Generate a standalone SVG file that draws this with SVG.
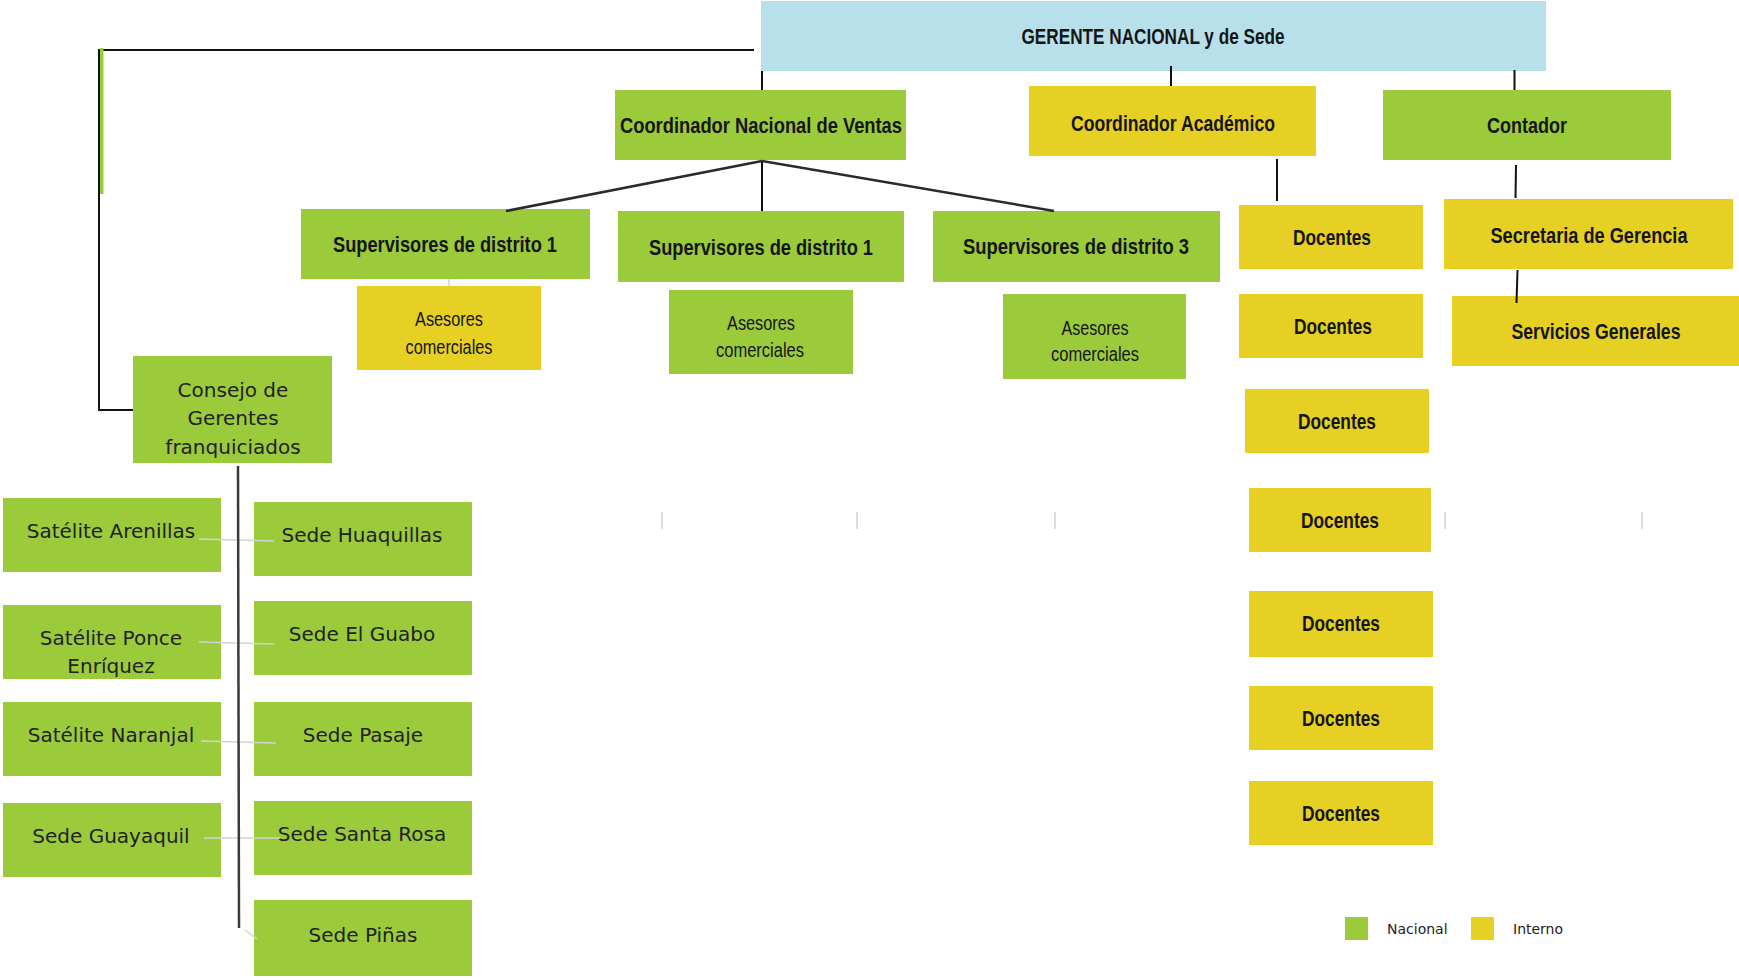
<svg xmlns="http://www.w3.org/2000/svg" width="1739" height="980" viewBox="0 0 1739 980">
<style>
.g{fill:#9BCB3B}
.y{fill:#E5D023}
.b{fill:#B8E0EA}
.h{font-family:"Liberation Sans Narrow","Liberation Sans",Arial,sans-serif;font-weight:bold;font-size:22px;fill:#151515;text-anchor:middle}
.a{font-family:"Liberation Sans Narrow","Liberation Sans",Arial,sans-serif;font-size:20px;fill:#151515;text-anchor:middle}
.r{font-family:"DejaVu Sans","Noto Sans",sans-serif;font-size:20px;fill:#222;text-anchor:middle}
.l{font-family:"DejaVu Sans","Noto Sans",sans-serif;font-size:14px;fill:#222}
.k{stroke:#111;stroke-width:2;fill:none}
.d{stroke:#2a2a2a;stroke-width:2.5;fill:none}
.f{stroke:#d2d2d2;stroke-width:1.5;fill:none}
</style>
<rect width="1739" height="980" fill="#fff"/>
<g id="gerente"><rect x="761" y="1" width="785" height="70" class="b"/><text class="h" x="1153" y="43.5" font-size="21" textLength="263" lengthAdjust="spacingAndGlyphs">GERENTE NACIONAL y de Sede</text></g>
<g id="coord-ventas"><rect x="615" y="90" width="291" height="70" class="g"/><text class="h" x="761" y="133" textLength="282" lengthAdjust="spacingAndGlyphs">Coordinador Nacional de Ventas</text></g>
<g id="coord-academico"><rect x="1029" y="86" width="287" height="70" class="y"/><text class="h" x="1173" y="131" textLength="204" lengthAdjust="spacingAndGlyphs">Coordinador Académico</text></g>
<g id="contador"><rect x="1383" y="90" width="288" height="70" class="g"/><text class="h" x="1527" y="133" textLength="80" lengthAdjust="spacingAndGlyphs">Contador</text></g>
<g id="sup1a"><rect x="301" y="209" width="289" height="70" class="g"/><text class="h" x="445" y="252" textLength="224" lengthAdjust="spacingAndGlyphs">Supervisores de distrito 1</text></g>
<g id="sup1b"><rect x="618" y="211" width="286" height="71" class="g"/><text class="h" x="761" y="255" textLength="224" lengthAdjust="spacingAndGlyphs">Supervisores de distrito 1</text></g>
<g id="sup3"><rect x="933" y="211" width="287" height="71" class="g"/><text class="h" x="1076" y="254" textLength="226" lengthAdjust="spacingAndGlyphs">Supervisores de distrito 3</text></g>
<g id="asesores1"><rect x="357" y="286" width="184" height="84" class="y"/><text class="a" x="449" y="326" textLength="68" lengthAdjust="spacingAndGlyphs">Asesores</text><text class="a" x="449" y="354" textLength="87" lengthAdjust="spacingAndGlyphs">comerciales</text></g>
<g id="asesores2"><rect x="669" y="290" width="184" height="84" class="g"/><text class="a" x="761" y="330" textLength="68" lengthAdjust="spacingAndGlyphs">Asesores</text><text class="a" x="760" y="357" textLength="88" lengthAdjust="spacingAndGlyphs">comerciales</text></g>
<g id="asesores3"><rect x="1003" y="294" width="183" height="85" class="g"/><text class="a" x="1095" y="335" textLength="67" lengthAdjust="spacingAndGlyphs">Asesores</text><text class="a" x="1095" y="361" textLength="88" lengthAdjust="spacingAndGlyphs">comerciales</text></g>
<g id="docentes1"><rect x="1239" y="205" width="184" height="64" class="y"/><text class="h" x="1332" y="245" textLength="78" lengthAdjust="spacingAndGlyphs">Docentes</text></g>
<g id="docentes2"><rect x="1239" y="294" width="184" height="64" class="y"/><text class="h" x="1333" y="334" textLength="78" lengthAdjust="spacingAndGlyphs">Docentes</text></g>
<g id="docentes3"><rect x="1245" y="389" width="184" height="64" class="y"/><text class="h" x="1337" y="429" textLength="78" lengthAdjust="spacingAndGlyphs">Docentes</text></g>
<g id="docentes4"><rect x="1249" y="488" width="182" height="64" class="y"/><text class="h" x="1340" y="528" textLength="78" lengthAdjust="spacingAndGlyphs">Docentes</text></g>
<g id="docentes5"><rect x="1249" y="591" width="184" height="66" class="y"/><text class="h" x="1341" y="631" textLength="78" lengthAdjust="spacingAndGlyphs">Docentes</text></g>
<g id="docentes6"><rect x="1249" y="686" width="184" height="64" class="y"/><text class="h" x="1341" y="726" textLength="78" lengthAdjust="spacingAndGlyphs">Docentes</text></g>
<g id="docentes7"><rect x="1249" y="781" width="184" height="64" class="y"/><text class="h" x="1341" y="821" textLength="78" lengthAdjust="spacingAndGlyphs">Docentes</text></g>
<g id="secretaria"><rect x="1444" y="199" width="289" height="70" class="y"/><text class="h" x="1589" y="243" textLength="197" lengthAdjust="spacingAndGlyphs">Secretaria de Gerencia</text></g>
<g id="servicios"><rect x="1452" y="296" width="287" height="70" class="y"/><text class="h" x="1596" y="339" textLength="169" lengthAdjust="spacingAndGlyphs">Servicios Generales</text></g>
<g id="consejo"><rect x="133" y="356" width="199" height="107" class="g"/><text class="r" x="233" y="397">Consejo de</text><text class="r" x="233" y="425">Gerentes</text><text class="r" x="233" y="454">franquiciados</text></g>
<g id="sat-arenillas"><rect x="3" y="498" width="218" height="74" class="g"/><text class="r" x="111" y="538">Satélite Arenillas</text></g>
<g id="sede-huaquillas"><rect x="254" y="502" width="218" height="74" class="g"/><text class="r" x="362" y="542">Sede Huaquillas</text></g>
<g id="sat-ponce"><rect x="3" y="605" width="218" height="74" class="g"/><text class="r" x="111" y="645">Satélite Ponce</text><text class="r" x="111" y="673">Enríquez</text></g>
<g id="sede-guabo"><rect x="254" y="601" width="218" height="74" class="g"/><text class="r" x="362" y="641">Sede El Guabo</text></g>
<g id="sat-naranjal"><rect x="3" y="702" width="218" height="74" class="g"/><text class="r" x="111" y="742">Satélite Naranjal</text></g>
<g id="sede-pasaje"><rect x="254" y="702" width="218" height="74" class="g"/><text class="r" x="363" y="742">Sede Pasaje</text></g>
<g id="sede-guayaquil"><rect x="3" y="803" width="218" height="74" class="g"/><text class="r" x="111" y="843">Sede Guayaquil</text></g>
<g id="sede-santarosa"><rect x="254" y="801" width="218" height="74" class="g"/><text class="r" x="362" y="841">Sede Santa Rosa</text></g>
<g id="sede-pinas"><rect x="254" y="900" width="218" height="76" class="g"/><text class="r" x="363" y="942">Sede Piñas</text></g>
<g id="legend">
<rect x="1345" y="917" width="23" height="23" class="g"/><text class="l" x="1387" y="934">Nacional</text>
<rect x="1471" y="917" width="23" height="23" class="y"/><text class="l" x="1513" y="934">Interno</text>
</g>
<g id="connectors">
<path class="k" d="M754,50 H99 V410 H133"/>
<rect x="100" y="48" width="3.5" height="146" class="g"/>
<line class="k" x1="762" y1="71" x2="762" y2="90"/>
<line class="k" x1="1171" y1="66" x2="1171" y2="86"/>
<line class="k" x1="1514.5" y1="70" x2="1514.5" y2="90"/>
<line class="d" x1="762" y1="161" x2="506" y2="211"/>
<line class="k" x1="762" y1="161" x2="762" y2="211"/>
<line class="d" x1="762" y1="161" x2="1054" y2="211"/>
<line class="k" x1="1277" y1="159" x2="1277" y2="201"/>
<line class="k" x1="1516" y1="165" x2="1515.5" y2="198"/>
<line class="k" x1="1517.5" y1="270" x2="1516.5" y2="303"/>
<line class="f" x1="449" y1="279" x2="449" y2="286"/>
<line class="f" x1="199" y1="539" x2="274" y2="541"/>
<line class="f" x1="199" y1="642" x2="274" y2="644"/>
<line class="f" x1="201" y1="741" x2="276" y2="743"/>
<line class="f" x1="204" y1="838" x2="280" y2="838"/>
<line class="f" x1="245" y1="930" x2="257" y2="939"/>
<line stroke="#3a3a3a" stroke-width="2.5" x1="238" y1="466" x2="239" y2="928"/>
<line class="f" x1="662" y1="512" x2="662" y2="529"/>
<line class="f" x1="857" y1="512" x2="857" y2="529"/>
<line class="f" x1="1055" y1="512" x2="1055" y2="529"/>
<line class="f" x1="1445" y1="512" x2="1445" y2="529"/>
<line class="f" x1="1642" y1="512" x2="1642" y2="529"/>
</g>
</svg>
